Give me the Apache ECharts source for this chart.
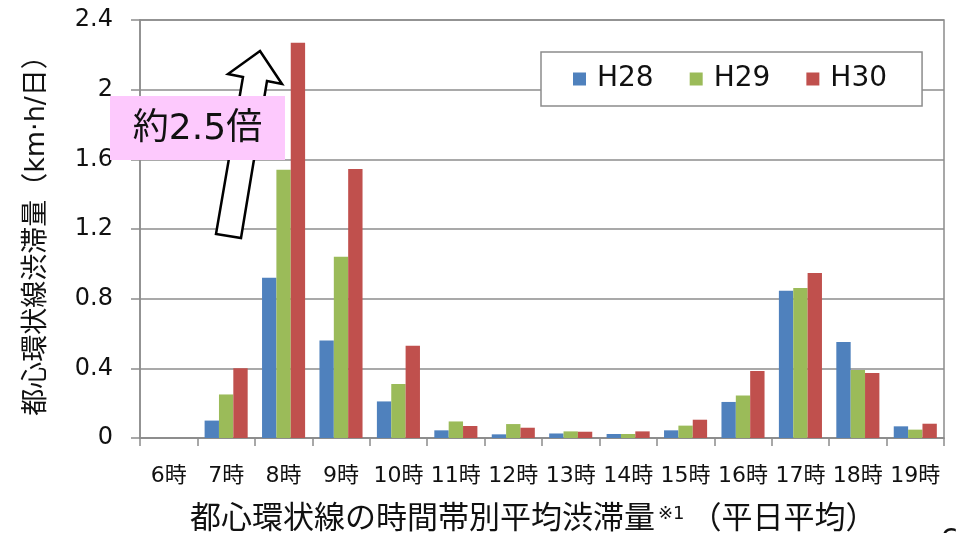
<!DOCTYPE html>
<html>
<head>
<meta charset="utf-8">
<script src="https://cdn.jsdelivr.net/npm/echarts@6/dist/echarts.min.js"></script>
<style>
  html, body { margin: 0; padding: 0; background: #fff; }
  #chart { width: 960px; height: 533px; }
</style>
</head>
<body>
<div id="chart"></div>
<script>
// 時間帯
const hours = ['6時', '7時', '8時', '9時', '10時', '11時', '12時', '13時', '14時', '15時', '16時', '17時', '18時', '19時']
// 渋滞量 (km·h/日)
const h28 = [0, 0.10, 0.92, 0.56, 0.21, 0.044, 0.021, 0.026, 0.023, 0.044, 0.207, 0.845, 0.551, 0.067]
const h29 = [0, 0.25, 1.54, 1.04, 0.31, 0.095, 0.080, 0.038, 0.023, 0.071, 0.244, 0.861, 0.390, 0.048]
const h30 = [0, 0.40, 2.27, 1.545, 0.53, 0.069, 0.059, 0.036, 0.038, 0.105, 0.384, 0.948, 0.373, 0.082]
const seriesNames = ['H28', 'H29', 'H30']

const font = "'DejaVu Sans', 'Noto Sans CJK JP', sans-serif"
const gray = '#8c8c8c'

const chart = echarts.init(document.getElementById('chart'))

const option = {
  animation: false,
  color: ['#4f81bd', '#9bbb59', '#c0504d'],
  textStyle: { fontFamily: font, color: '#111' },
  grid: {
    left: 140, right: 16, top: 20, bottom: 95,
    show: true, borderColor: gray, borderWidth: 1.5
  },
  title: {
    left: 185, top: 497,
    text: '{a|都心環状線の時間帯別平均渋滞量}{s|※1}{a|（平日平均）}',
    textStyle: {
      fontWeight: 'normal',
      rich: {
        a: { fontSize: 31, fontFamily: font, fontWeight: 'normal', color: '#111', lineHeight: 36 },
        s: { fontSize: 18, fontFamily: font, fontWeight: 'normal', color: '#111', lineHeight: 36, verticalAlign: 'top', padding: [3, 6, 0, 3] }
      }
    }
  },
  legend: {
    data: seriesNames,
    left: 541, top: 52,
    padding: [13, 35, 13, 32],
    backgroundColor: '#fff',
    borderColor: gray,
    borderWidth: 1.5,
    borderRadius: 0,
    itemWidth: 13, itemHeight: 13, itemGap: 36,
    icon: 'rect',
    textStyle: { fontSize: 28, fontFamily: font, color: '#111', padding: [0, 0, 0, 6] }
  },
  xAxis: {
    type: 'category',
    data: hours,
    axisLine: { lineStyle: { color: gray, width: 1.5 } },
    axisTick: { show: true, length: 8, lineStyle: { color: gray, width: 1.5 } },
    axisLabel: { fontSize: 22, fontFamily: font, color: '#111', margin: 27, interval: 0 }
  },
  yAxis: {
    type: 'value',
    min: 0, max: 2.4, interval: 0.4,
    name: '都心環状線渋滞量（km·h/日）',
    nameLocation: 'middle',
    nameGap: 90,
    nameTextStyle: { fontSize: 27, fontFamily: font, color: '#111' },
    axisLine: { show: true, lineStyle: { color: gray, width: 1.5 } },
    axisTick: { show: true, length: 9, lineStyle: { color: gray, width: 1.5 } },
    axisLabel: { fontSize: 24, fontFamily: font, color: '#111', margin: 27 },
    splitLine: { lineStyle: { color: gray, width: 1.5 } }
  },
  series: [
    { name: 'H28', type: 'bar', data: h28, barGap: '0%', barCategoryGap: '25%' },
    { name: 'H29', type: 'bar', data: h29, barGap: '0%', barCategoryGap: '25%' },
    { name: 'H30', type: 'bar', data: h30, barGap: '0%', barCategoryGap: '25%' }
  ],
  graphic: [
    {
      // 白抜き矢印
      type: 'polygon',
      z: 50,
      shape: {
        points: [[260, 51], [282, 84], [267, 81], [241, 238], [216, 234], [243, 77], [228, 74]]
      },
      style: { fill: '#fff', stroke: '#000', lineWidth: 2.5 }
    },
    {
      type: 'rect',
      z: 60,
      shape: { x: 110, y: 96, width: 175, height: 64 },
      style: { fill: '#fdc9fd' }
    },
    {
      type: 'text',
      z: 61,
      x: 197.5, y: 130,
      style: {
        text: '約2.5倍',
        font: '36px ' + font,
        fill: '#111',
        align: 'center',
        verticalAlign: 'middle'
      }
    },
    {
      type: 'text',
      z: 61,
      x: 940, y: 527,
      style: { text: '6', font: '30px ' + font, fill: '#111' }
    }
  ]
}

chart.setOption(option)
</script>
</body>
</html>
